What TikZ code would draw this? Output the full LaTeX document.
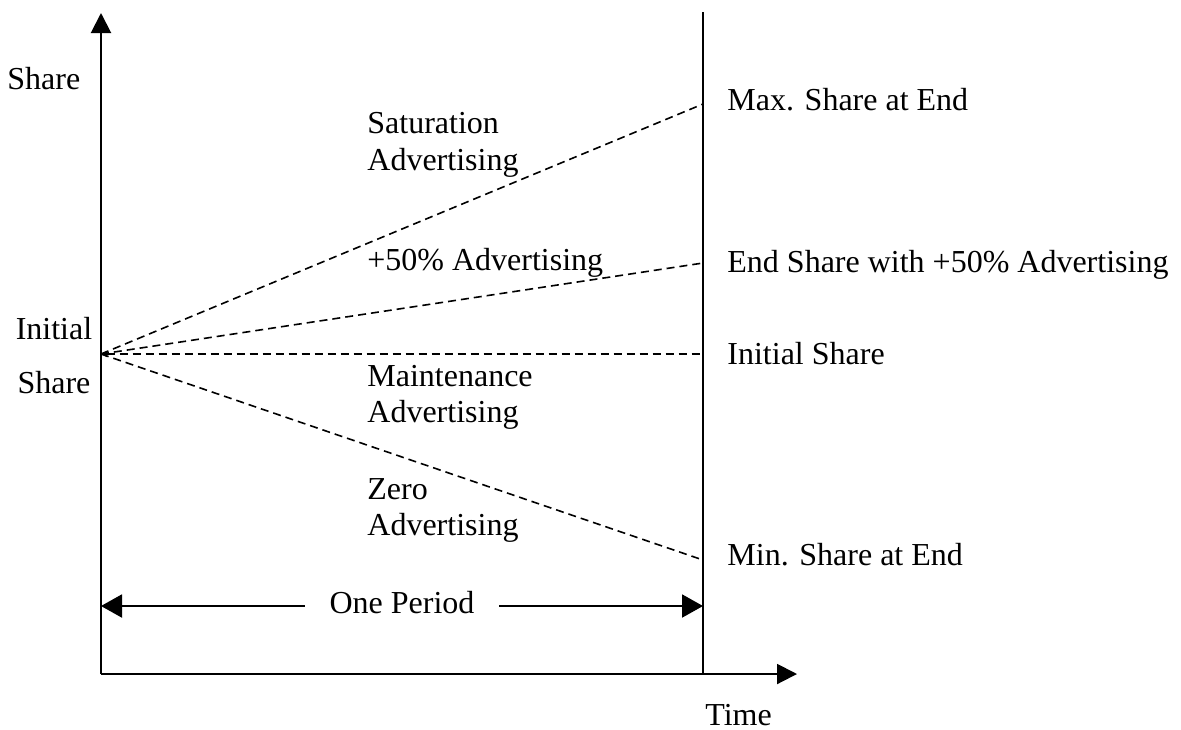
\documentclass[tikz,border=0pt]{standalone}
\usepackage{fontspec}
\setmainfont{Liberation Serif}
\usetikzlibrary{positioning, arrows.meta}

\begin{document}
\begin{tikzpicture}[x=0.5pt, y=-0.5pt,
		lbl/.style={inner sep=0pt, font=\fontsize{16}{18.5}\selectfont},
		axis/.style={line width=1pt, -{Triangle[length=10pt, width=10pt]}},
		trend/.style={dash pattern=on 4pt off 2.5pt, line width=0.8pt},
		span/.style={line width=1pt, -{Triangle[length=10.5pt, width=11.5pt]}}]
		\useasboundingbox (0,0) rectangle (1181,729);
		\def\OriginX{101} % pionowa os
		\def\AxisY{674} % pozioma os
		\def\EndX{703} % koniec okresu
		\def\StartY{354} % udzial poczatkowy
		
		% Punkty pomocnicze
		\coordinate (origin) at (\OriginX,\AxisY);
		\coordinate (ytip) at (\OriginX,13);
		\coordinate (xtip) at (797,\AxisY);
		\coordinate (endtop) at (\EndX,12);
		\coordinate (endbot) at (\EndX,\AxisY);
		\coordinate (start) at (\OriginX,\StartY);
		\coordinate (maxend) at (\EndX,104);
		\coordinate (halfend) at (\EndX,263);
		\coordinate (initend) at (\EndX,\StartY);
		\coordinate (minend) at (\EndX,560);
		\coordinate (pleft) at (\OriginX,606);
		\coordinate (pright) at (\EndX,606);
		
		% Osie i koniec okresu
		\draw[axis] (origin) -- (ytip);
		\draw[axis] (origin) -- (xtip);
		\draw[line width=1pt] (endbot) -- (endtop);
		
		% Sciezki udzialu
		\draw[trend] (start) -- (maxend);
		\draw[trend] (start) -- (halfend);
		\draw[trend, {Triangle[length=3pt, width=3pt]}-] (start) -- (initend);
		\draw[trend] (start) -- (minend);
		
		% Okres
		\node[lbl, anchor=base, outer xsep=12.5pt] (period) at (402,613) {One Period};
		\draw[span] (period.west |- pleft) -- (pleft);
		\draw[span] (period.east |- pright) -- (pright);
		
		% Opisy osi
		\node[lbl, anchor=base west] (yname) at (7,89) {Share};
		\node[lbl, anchor=base west] (xname) at (705,725) {Time};
		\node[lbl, anchor=base] (init1) at (54,339) {Initial};
		\node[lbl, anchor=base] (init2) at (54,393) {Share};
		
		% Opisy sciezek
		\node[lbl, anchor=base west] (sat1) at (367,133) {Saturation};
		\node[lbl, anchor=base west] (sat2) at (367,170) {Advertising};
		\node[lbl, anchor=base west] (half) at (367,270) {+50\% Advertising};
		\node[lbl, anchor=base west] (main1) at (367,386) {Maintenance};
		\node[lbl, anchor=base west] (main2) at (367,422) {Advertising};
		\node[lbl, anchor=base west] (zero1) at (367,499) {Zero};
		\node[lbl, anchor=base west] (zero2) at (367,535) {Advertising};
		
		% Wyniki na koncu
		\node[lbl, anchor=base west] (maxlbl) at (727,110) {Max. Share at End};
		\node[lbl, anchor=base west] (halflbl) at (727,272) {End Share with +50\% Advertising};
		\node[lbl, anchor=base west] (initlbl) at (727,364) {Initial Share};
		\node[lbl, anchor=base west] (minlbl) at (727,565) {Min. Share at End};
		
	\end{tikzpicture}
\end{document}
